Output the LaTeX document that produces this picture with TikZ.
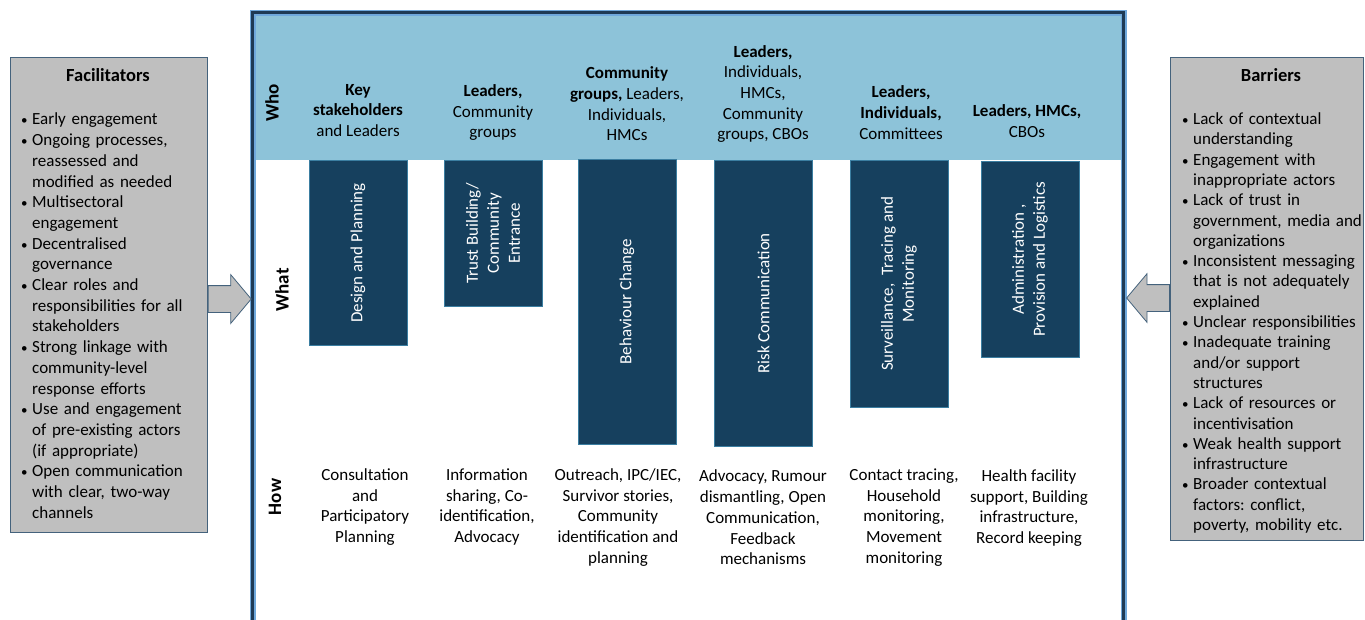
\documentclass[tikz,border=0pt]{standalone}
\usepackage{fontspec}
\setmainfont{Carlito}
\usetikzlibrary{positioning, shapes.arrows}

\definecolor{headblue}{HTML}{8DC3D9}
\definecolor{navy}{HTML}{16405E}
\definecolor{boxedge}{HTML}{3B7EA1}
\definecolor{framenavy}{HTML}{1E3A55}
\definecolor{framelight}{HTML}{6FA8DC}
\definecolor{sidegray}{HTML}{BFBFBF}
\definecolor{sideedge}{HTML}{44627C}

\frenchspacing
\newcommand{\sideitem}[1]{\par\parskip=0pt\hangindent=12pt\hangafter=1\noindent\hbox to 12pt{\hspace{1pt}{\fontsize{13}{13}\selectfont\textbullet}\hfil}\ignorespaces#1\par}

\begin{document}
\begin{tikzpicture}[x=1pt,y=-1pt,
    taskbox/.style={draw=boxedge, fill=navy, text=white, line width=0.8pt, rotate=90,
        minimum height=98pt, inner sep=0pt, align=center, font=\fontsize{17}{21}\selectfont},
    whotext/.style={align=center, inner sep=0pt, font=\fontsize{17}{20.7}\selectfont},
    howtext/.style={whotext},
    rowlabel/.style={rotate=90, inner sep=0pt, font=\fontsize{19}{19}\selectfont\bfseries},
    sidebox/.style={draw=sideedge, fill=sidegray, line width=0.8pt, anchor=north west, inner sep=0pt},
    sidetitle/.style={inner sep=0pt, font=\fontsize{18.5}{20}\selectfont\bfseries},
    sidelist/.style={anchor=north west, inner sep=0pt, text width=185pt},
    blockarrow/.style={single arrow, draw=sideedge, fill=sidegray, line width=0.8pt,
        minimum height=43pt, minimum width=48pt, single arrow head extend=11pt,
        single arrow tip angle=100, inner xsep=0pt, inner ysep=13pt}
]
\useasboundingbox (0,0) rectangle (1365,619);
\clip (0,0) rectangle (1365,619);

% main panel
\node[fill=headblue, minimum width=871pt, minimum height=148pt, inner sep=0pt, anchor=north west] (whoband) at (252,12) {};
\node[draw=framelight, line width=1.5pt, double=framenavy, double distance=3pt,
    minimum width=871pt, minimum height=660pt, inner sep=0pt, anchor=north west] (panel) at (252,12) {};

\node[rowlabel] (wholbl) at (272,103) {Who};
\node[rowlabel] (whatlbl) at (282,290) {What};
\node[rowlabel] (howlbl) at (275,497) {How};

% who
\node[whotext] (who1) at (358,110.5) {\textbf{Key}\\\textbf{stakeholders}\\and Leaders};
\node[whotext] (who2) at (493,112.5) {\textbf{Leaders,}\\Community\\groups};
\node[whotext] (who3) at (627,104) {\textbf{Community}\\\textbf{groups,} Leaders,\\Individuals,\\HMCs};
\node[whotext] (who4) at (763,94) {\textbf{Leaders,}\\Individuals,\\HMCs,\\Community\\groups, CBOs};
\node[whotext] (who5) at (901,112.5) {\textbf{Leaders,}\\\textbf{Individuals,}\\Committees};
\node[whotext] (who6) at (1027,121) {\textbf{Leaders, HMCs,}\\CBOs};

% what
\node[taskbox, minimum width=185pt, anchor=east] (design) at (358,160) {Design and Planning};
\node[taskbox, minimum width=146pt, anchor=east] (trust) at (493,160) {Trust Building/\\Community\\Entrance};
\node[taskbox, minimum width=285pt, anchor=east] (behaviour) at (627,159) {Behaviour Change};
\node[taskbox, minimum width=286pt, anchor=east] (risk) at (763.5,160) {Risk Communication};
\node[taskbox, minimum width=247pt, anchor=east] (surveil) at (899,160) {Surveillance,~~Tracing and\\Monitoring};
\node[taskbox, minimum width=196pt, anchor=east] (admin) at (1030,161) {Administration ,\\Provision and Logistics};

% how
\node[howtext] (how1) at (365,507) {Consultation\\and\\Participatory\\Planning};
\node[howtext] (how2) at (487,507) {Information\\sharing, Co-\\identification,\\Advocacy};
\node[howtext] (how3) at (618,517.5) {Outreach, IPC/IEC,\\Survivor stories,\\Community\\identification and\\planning};
\node[howtext] (how4) at (763,517.5) {Advocacy, Rumour\\dismantling, Open\\Communication,\\Feedback\\mechanisms};
\node[howtext] (how5) at (904,517.5) {Contact tracing,\\Household\\monitoring,\\Movement\\monitoring};
\node[howtext] (how6) at (1029,508) {Health facility\\support, Building\\infrastructure,\\Record keeping};

% facilitators
\node[sidebox, minimum width=197pt, minimum height=475pt] (fac) at (10,57) {};
\node[sidetitle] (factitle) at (108,75) {Facilitators};
\node[sidelist, font=\fontsize{17}{20.7}\selectfont] (faclist) at (20,104) {%
\sideitem{Early engagement}
\sideitem{Ongoing processes,\newline reassessed and\newline modified as needed}
\sideitem{Multisectoral\newline engagement}
\sideitem{Decentralised\newline governance}
\sideitem{Clear roles and\newline responsibilities for all\newline stakeholders}
\sideitem{Strong linkage with\newline community-level\newline response efforts}
\sideitem{Use and engagement\newline of pre-existing actors\newline (if appropriate)}
\sideitem{Open communication\newline with clear, two-way\newline channels}};
\node[blockarrow, anchor=tail] (facarrow) at (fac.east |- 0,299) {};

% barriers
\node[sidebox, minimum width=193pt, minimum height=483pt] (bar) at (1170,57) {};
\node[sidetitle] (bartitle) at (1271,75) {Barriers};
\node[sidelist, font=\fontsize{17}{20.3}\selectfont] (barlist) at (1181,104) {%
\sideitem{Lack of contextual\newline understanding}
\sideitem{Engagement with\newline inappropriate actors}
\sideitem{Lack of trust in\newline government, media and\newline organizations}
\sideitem{Inconsistent messaging\newline that is not adequately\newline explained}
\sideitem{Unclear responsibilities}
\sideitem{Inadequate training\newline and/or support\newline structures}
\sideitem{Lack of resources or\newline incentivisation}
\sideitem{Weak health support\newline infrastructure}
\sideitem{Broader contextual\newline factors: conflict,\newline poverty, mobility etc.}};
\node[blockarrow, shape border rotate=180, anchor=tail] (bararrow) at (bar.west |- 0,298) {};
\end{tikzpicture}
\end{document}
